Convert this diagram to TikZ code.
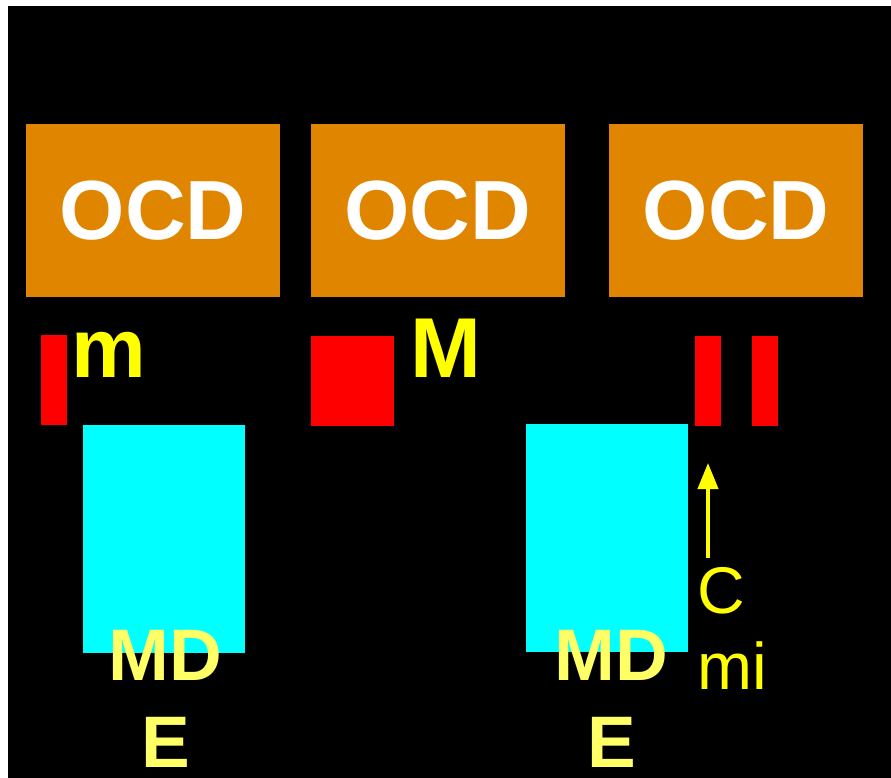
\documentclass[tikz,border=0pt]{standalone}
\usepackage{fontspec}
\setmainfont{Liberation Sans}
\usetikzlibrary{arrows.meta}
\definecolor{ocdorange}{HTML}{E08500}
\definecolor{lightyel}{HTML}{FFFF66}
\definecolor{aqua}{HTML}{00FFFF}
\definecolor{pure red}{HTML}{FF0000}
\definecolor{pure yellow}{HTML}{FFFF00}
\begin{document}
\begin{tikzpicture}[x=1pt,y=-1pt,
  ocdbox/.style={fill=ocdorange,draw=none,minimum width=254pt,minimum height=173pt,inner sep=0pt,
    text=white,font=\fontsize{84}{84}\selectfont\bfseries},
  redbar/.style={fill=pure red,draw=none,inner sep=0pt},
  cyanbox/.style={fill=aqua,draw=none,inner sep=0pt,minimum width=162pt,minimum height=228pt},
  biglabel/.style={text=pure yellow,inner sep=0pt,anchor=base},
  mdlabel/.style={text=lightyel,inner sep=0pt,anchor=base,font=\fontsize{73}{73}\selectfont\bfseries},
  cmlabel/.style={text=pure yellow,inner sep=0pt,anchor=base west,font=\fontsize{66}{66}\selectfont},
  yarrow/.style={draw=pure yellow,fill=pure yellow,line width=4pt,-{Triangle[width=20pt,length=26pt]}}]
\useasboundingbox (0,0) rectangle (891,778);
\fill[white] (0,0) rectangle (891,778);
\fill[black] (8,6.5) rectangle (891,778);
% OCD boxes
\node[ocdbox] (ocd1) at (153,210.5) {OCD};
\node[ocdbox] (ocd2) at (437.5,210.5) {OCD};
\node[ocdbox] (ocd3) at (736,210.5) {OCD};
% red bars
\node[redbar,minimum width=26pt,minimum height=90pt] (r1) at (54,379.5) {};
\node[redbar,minimum width=83pt,minimum height=90pt] (r2) at (352.5,381) {};
\node[redbar,minimum width=26pt,minimum height=90pt] (r3) at (708,381) {};
\node[redbar,minimum width=26pt,minimum height=90pt] (r4) at (765,381) {};
% labels m, M
\node[biglabel,font=\fontsize{84}{84}\selectfont\bfseries] (lm) at (109,377) {m};
\node[biglabel,font=\fontsize{85}{85}\selectfont\bfseries] (lM) at (445.5,377) {M};
% cyan boxes
\node[cyanbox] (c1) at (164,539) {};
\node[cyanbox] (c2) at (607,537.5) {};
% MDE labels
\node[mdlabel] (md1) at (165,680) {MD};
\node[mdlabel] (e1) at (166,767) {E};
\node[mdlabel] (md2) at (611,680) {MD};
\node[mdlabel] (e2) at (612,767) {E};
% C mi
\node[cmlabel] (lc) at (697,613) {C};
\node[cmlabel] (lmi) at (697,689) {mi};
% arrow
\coordinate (atail) at (708,558);
\coordinate (ahead) at (708,463);
\draw[yarrow] (atail) -- (ahead);
\end{tikzpicture}
\end{document}
